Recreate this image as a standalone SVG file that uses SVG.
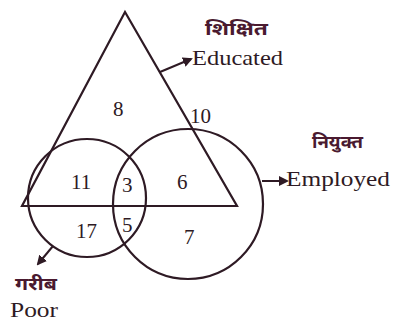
<svg xmlns="http://www.w3.org/2000/svg" width="400" height="322" viewBox="0 0 400 322">
<defs>
<style>
.s{fill:none;stroke:#2e1a24;stroke-width:2.2}
.t{font-family:"Liberation Serif",serif;font-size:21px;fill:#2e1a24}
.n{font-family:"Liberation Serif",serif;font-size:21px;fill:#2e1a24}
.h{font-family:"Noto Sans Devanagari","Noto Sans","DejaVu Sans",sans-serif;font-size:18px;font-weight:bold;fill:#4a1a30}
.c{stroke:#2e1a24;stroke-width:2;fill:none}
</style>
<marker id="ah" viewBox="0 0 10 10" refX="8" refY="5" markerWidth="5" markerHeight="5" orient="auto">
<path d="M0,0 L10,5 L0,10 z" fill="#2e1a24"/>
</marker>
</defs>
<rect width="400" height="322" fill="#ffffff"/>
<g id="educated">
<polygon class="s" points="125,12 22,206 237,206"/>
</g>
<g id="poor">
<circle class="s" cx="87" cy="198" r="59"/>
</g>
<g id="employed">
<circle class="s" cx="188" cy="204" r="75"/>
</g>
<g id="connectors">
<line class="c" x1="160" y1="72" x2="191" y2="59" marker-end="url(#ah)"/>
<line class="c" x1="262" y1="181" x2="287" y2="181" marker-end="url(#ah)"/>
<line class="c" x1="53" y1="246" x2="38" y2="264" marker-end="url(#ah)"/>
</g>
<g id="labels">
<text class="h" x="205" y="35" textLength="63" lengthAdjust="spacingAndGlyphs">शिक्षित</text>
<text class="t" x="192" y="65" textLength="91" lengthAdjust="spacingAndGlyphs">Educated</text>
<text class="h" x="312" y="148" textLength="51" lengthAdjust="spacingAndGlyphs">नियुक्त</text>
<text class="t" x="286" y="186" textLength="104" lengthAdjust="spacingAndGlyphs">Employed</text>
<text class="h" x="15" y="290" textLength="42" lengthAdjust="spacingAndGlyphs">गरीब</text>
<text class="t" x="10" y="317" textLength="48" lengthAdjust="spacingAndGlyphs">Poor</text>
<text class="n" x="113" y="116">8</text>
<text class="n" x="190" y="123">10</text>
<text class="n" x="71" y="189">11</text>
<text class="n" x="122" y="192">3</text>
<text class="n" x="177" y="189">6</text>
<text class="n" x="76" y="238">17</text>
<text class="n" x="122" y="232">5</text>
<text class="n" x="184" y="244">7</text>
</g>
</svg>
